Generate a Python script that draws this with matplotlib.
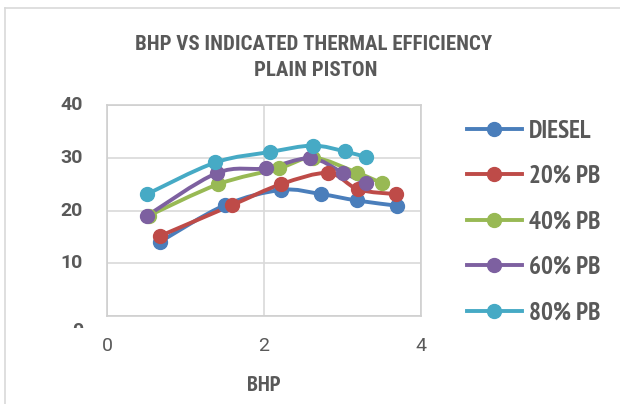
import matplotlib
matplotlib.use("Agg")
import matplotlib.pyplot as plt
import numpy as np
from matplotlib import font_manager
from matplotlib.path import Path
from matplotlib.patches import PathPatch
from matplotlib.lines import Line2D
from matplotlib.transforms import Bbox

# data
bhp_diesel = [0.68, 1.50, 2.22, 2.73, 3.18, 3.70]
ite_diesel = [14.1, 21.0, 23.9, 23.1, 21.9, 20.9]
bhp_20 = [0.68, 1.59, 2.22, 2.82, 3.20, 3.68]
ite_20 = [15.2, 21.0, 25.0, 27.1, 24.0, 23.1]
bhp_40 = [0.53, 1.42, 2.19, 2.63, 3.18, 3.50]
ite_40 = [19.0, 25.0, 28.0, 30.0, 27.2, 25.2]
bhp_60 = [0.51, 1.40, 2.02, 2.59, 3.00, 3.30]
ite_60 = [19.0, 27.1, 28.0, 29.9, 27.2, 25.2]
bhp_80 = [0.51, 1.38, 2.08, 2.62, 3.03, 3.30]
ite_80 = [23.1, 29.1, 31.1, 32.3, 31.2, 30.1]

labels = ["DIESEL", "20% PB", "40% PB", "60% PB", "80% PB"]
colors = ["#4a7ebb", "#be4b48", "#98b954", "#7d60a0", "#46aac5"]
series = [(bhp_diesel, ite_diesel), (bhp_20, ite_20), (bhp_40, ite_40),
          (bhp_60, ite_60), (bhp_80, ite_80)]

x_ticks = [0, 2, 4]
y_ticks = [10, 20, 30, 40]

available = {f.name for f in font_manager.fontManager.ttflist}


def pick(*names):
    for name in names:
        if name in available:
            return name
    return "DejaVu Sans"


narrow = pick("PT Sans Narrow", "Roboto Condensed", "Archivo Narrow")
title_font = pick("Roboto Condensed", "PT Sans Narrow")
text_gray = "#595959"
grid_gray = "#d9d9d9"


def smooth_path(xs, ys):
    # bezier segments like the spreadsheet "smoothed line" option
    pts = np.column_stack([xs, ys])
    n = len(pts)
    verts = [pts[0]]
    codes = [Path.MOVETO]
    for i in range(n - 1):
        p0 = pts[i - 1] if i > 0 else pts[i]
        p1 = pts[i]
        p2 = pts[i + 1]
        p3 = pts[i + 2] if i + 2 < n else pts[i + 1]
        c1 = p1 + (p2 - p0) / 6.0
        c2 = p2 - (p3 - p1) / 6.0
        verts += [c1, c2, p2]
        codes += [Path.CURVE4] * 3
    return Path(verts, codes)


fig = plt.figure(figsize=(6.2, 4.04), dpi=100)
ax = fig.add_axes([107 / 620, 88 / 404, 314 / 620, 211 / 404])

for (xs, ys), c, lab in zip(series, colors, labels):
    ax.add_patch(PathPatch(smooth_path(xs, ys), fill=False, edgecolor=c,
                           lw=2.8, capstyle="round", joinstyle="round"))
    ax.plot(xs, ys, "o", color=c, ms=10, mec=c, label=lab)

ax.set_xlim(0, 4)
ax.set_ylim(0, 40)
ax.set_xticks(x_ticks)
ax.set_yticks([0] + y_ticks)
ax.grid(True, color=grid_gray, lw=1.2)
ax.set_axisbelow(True)
for s in ax.spines.values():
    s.set_color("#cfcfcf")
    s.set_linewidth(1.2)
ax.tick_params(length=0)
ax.set_xticklabels([str(v) for v in x_ticks], fontname="Roboto", fontsize=14,
                   color=text_gray)
ax.tick_params(axis="x", pad=15)
ax.set_yticklabels([])

# y tick labels (bold), the zero one is cut off like in the reference
for v in y_ticks:
    ax.text(-0.31, v, str(v), ha="right", va="center", fontname="Roboto",
            fontweight="bold", fontsize=14, color=text_gray, clip_on=False)
zero = fig.text(83 / 620, (404 - 331) / 404, "0", ha="right", va="center",
                fontname="Roboto", fontweight="bold", fontsize=14, color=text_gray)
zero.set_clip_on(True)
zero.set_clip_box(Bbox([[0, 404 - 328], [620, 404]]))

ax.set_xlabel("BHP", fontname=narrow, fontweight="bold", fontsize=16,
              color=text_gray, labelpad=15)

fig.text(314 / 620, 1 - 45 / 404, "BHP VS INDICATED THERMAL EFFICIENCY",
         ha="center", va="center", fontname=title_font, fontweight="bold",
         fontsize=15, color=text_gray)
fig.text(316 / 620, 1 - 70 / 404, "PLAIN PISTON",
         ha="center", va="center", fontname=title_font, fontweight="bold",
         fontsize=15, color=text_gray)

handles = [Line2D([], [], color=c, lw=2.8, marker="o", ms=10) for c in colors]
fig.legend(handles, labels, loc="upper left", bbox_to_anchor=(444 / 620, 1 - 97 / 404),
           frameon=False, handlelength=2.2, handletextpad=0.3, labelspacing=0.9,
           prop={"family": narrow, "weight": "bold", "size": 18},
           labelcolor=text_gray)

# outer chart frame (only top and left visible in the crop)
fig.add_artist(Line2D([5 / 620, 5 / 620], [0, 1 - 8 / 404], color=grid_gray, lw=1.2))
fig.add_artist(Line2D([5 / 620, 1], [1 - 8 / 404, 1 - 8 / 404], color=grid_gray, lw=1.2))

fig.savefig("out.png", dpi=100)
